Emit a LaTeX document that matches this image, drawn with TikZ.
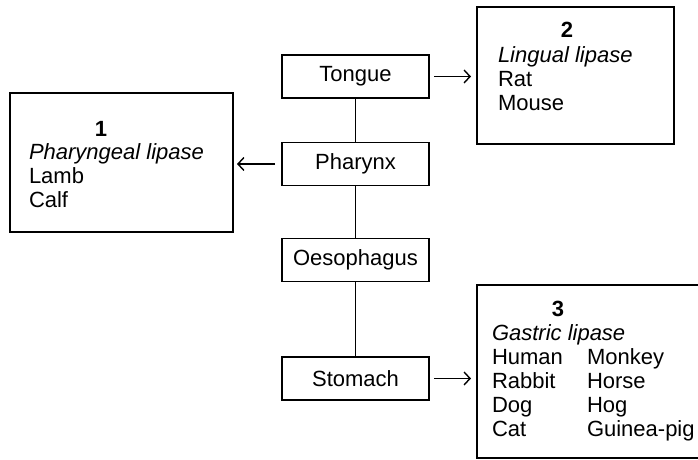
\documentclass[tikz,border=0pt]{standalone}
\usepackage{fontspec}
\setmainfont{Liberation Sans}
\usetikzlibrary{arrows.meta}

\begin{document}
\begin{tikzpicture}[x=0.5pt,y=-0.5pt,line width=0.8pt,>={Straight Barb[length=3pt,width=6.5pt]},
  every node/.style={font=\fontsize{11pt}{12pt}\selectfont,inner sep=0pt,outer sep=0pt},
  organ/.style={draw,minimum width=73.5pt,minimum height=21.5pt},
  txt/.style={anchor=base west,align=left},
  num/.style={anchor=base,font=\fontsize{11pt}{12pt}\selectfont\bfseries},
  gap/.style={->,line width=0.7pt,shorten <=2.5pt,shorten >=3pt}]
  \useasboundingbox (0,0) rectangle (698,460);
  % tubo digestivo
  \node[organ] (tongue) at (355.5,76.5) {Tongue};
  \node[organ] (pharynx) at (355.5,164) {Pharynx};
  \node[organ] (oesophagus) at (355.5,260) {Oesophagus};
  \node[organ] (stomach) at (355.5,378.5) {Stomach};
  \draw (tongue) -- (pharynx);
  \draw (pharynx) -- (oesophagus);
  \draw (oesophagus) -- (stomach);
  % lipasa faringea (base = ultima linea)
  \node[draw,minimum width=111.5pt,minimum height=69.5pt] (pharyngeal) at (121.5,162.5) {};
  \node[num] (num1) at (101,137) {1};
  \node[txt] (list1) at (29,208) {\textit{Pharyngeal lipase}\\Lamb\\Calf};
  % lipasa lingual
  \node[draw,minimum width=98.5pt,minimum height=68.5pt] (lingual) at (575.5,75.5) {};
  \node[num] (num2) at (567,38) {2};
  \node[txt] (list2) at (498,111) {\textit{Lingual lipase}\\Rat\\Mouse};
  % lipasa gastrica (cortada a la derecha)
  \node[minimum width=110.5pt,minimum height=86.5pt] (gastric) at (587.5,371.5) {};
  \draw (gastric.north east) -- (gastric.north west) -- (gastric.south west) -- (gastric.south east);
  \node[num] (num3) at (558,317) {3};
  \node[txt] (name3) at (492,341) {\textit{Gastric lipase}};
  \node[txt] (colA) at (492,437) {Human\\Rabbit\\Dog\\Cat};
  \node[txt] (colB) at (587,437) {Monkey\\Horse\\Hog\\Guinea-pig};
  % flechas
  \draw[gap] (tongue.east) -- (tongue.east -| lingual.west);
  \draw[gap,shorten <=3.5pt,shorten >=2pt] (pharynx.west) -- (pharynx.west -| pharyngeal.east);
  \draw[gap] (stomach.east) -- (stomach.east -| gastric.west);
\end{tikzpicture}
\end{document}
